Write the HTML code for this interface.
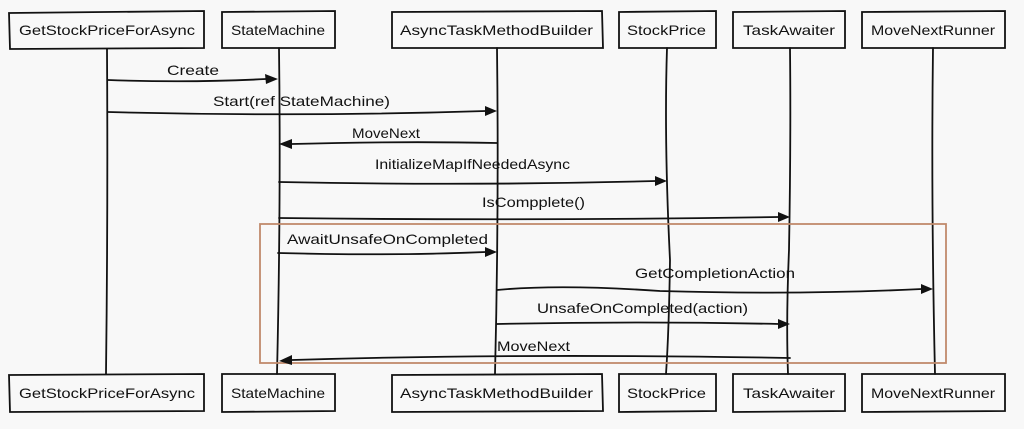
<!DOCTYPE html>
<html><head><meta charset="utf-8"><style>
html,body{margin:0;padding:0;background:#f8f8f8;}
svg{display:block;}
text{font-family:"Liberation Sans",sans-serif;font-size:14px;fill:#111;}
</style></head><body>
<svg width="1024" height="429" viewBox="0 0 1024 429" xmlns="http://www.w3.org/2000/svg">
<rect width="1024" height="429" fill="#f8f8f8"/>
<g fill="none" stroke="#111" stroke-width="1.8" stroke-linecap="round">
<!-- lifelines -->
<path d="M107 49 Q108 210 106 374"/>
<path d="M279 48 Q281 200 277 374"/>
<path d="M497 48 Q499 210 495 374"/>
<path d="M667 48 Q664 140 670 260 Q669 330 666 374"/>
<path d="M790 48 Q791 140 789 250 Q786 320 788 374"/>
<path d="M933 48 Q931 200 935 374"/>
<!-- top boxes -->
<path d="M9 13 L204 11 L204 48 L10 49 Z"/>
<path d="M222 12 L335 11 L335 48 L222 48 Z"/>
<path d="M392 12 L602 11 L603 48 L392 48 Z"/>
<path d="M619 12 L716 11 L716 48 L619 48 Z"/>
<path d="M733 12 L845 11 L845 48 L733 48 Z"/>
<path d="M862 12 L1005 11 L1005 48 L862 48 Z"/>
<!-- bottom boxes -->
<path d="M9 375 L204 374 L204 411 L10 412 Z"/>
<path d="M222 374 L335 374 L335 411 L222 412 Z"/>
<path d="M392 375 L602 374 L603 411 L392 412 Z"/>
<path d="M619 374 L716 374 L716 411 L619 412 Z"/>
<path d="M733 374 L845 374 L845 411 L733 412 Z"/>
<path d="M862 374 L1005 374 L1005 411 L862 412 Z"/>
<!-- messages -->
<path d="M108 80 Q190 83 266 79"/>
<path d="M108 112 Q300 117 486 111"/>
<path d="M497 143 Q400 141 292 144"/>
<path d="M279 182 Q470 186 656 181"/>
<path d="M279 218 Q530 221 779 217"/>
<path d="M278 253 Q390 256 486 252"/>
<path d="M497 290 Q560 284 660 291 Q800 295 922 289"/>
<path d="M497 324 Q640 321 779 324"/>
<path d="M790 358 Q520 353 292 360"/>
</g>
<!-- orange box -->
<rect x="260" y="224" width="686" height="139" fill="none" stroke="#c08a6c" stroke-width="1.8"/>
<!-- arrowheads -->
<g fill="#111">
<path d="M278 79 L265 74 L266 84 Z"/>
<path d="M497 111 L485 106 L485 116 Z"/>
<path d="M279 144 L292 139 L292 149 Z"/>
<path d="M667 181 L655 176 L655 186 Z"/>
<path d="M790 217 L778 212 L778 222 Z"/>
<path d="M497 252 L485 247 L485 257 Z"/>
<path d="M933 289 L921 284 L921 294 Z"/>
<path d="M790 324 L778 319 L778 329 Z"/>
<path d="M279 361 L292 355 L292 365 Z"/>
</g>
<!-- box labels -->
<g>
<text x="19" y="35" textLength="176" lengthAdjust="spacingAndGlyphs">GetStockPriceForAsync</text>
<text x="231" y="35" textLength="94" lengthAdjust="spacingAndGlyphs">StateMachine</text>
<text x="400" y="35" textLength="193" lengthAdjust="spacingAndGlyphs">AsyncTaskMethodBuilder</text>
<text x="627" y="35" textLength="79" lengthAdjust="spacingAndGlyphs">StockPrice</text>
<text x="743" y="35" textLength="92" lengthAdjust="spacingAndGlyphs">TaskAwaiter</text>
<text x="871" y="35" textLength="124" lengthAdjust="spacingAndGlyphs">MoveNextRunner</text>
<text x="19" y="398" textLength="176" lengthAdjust="spacingAndGlyphs">GetStockPriceForAsync</text>
<text x="231" y="398" textLength="94" lengthAdjust="spacingAndGlyphs">StateMachine</text>
<text x="400" y="398" textLength="193" lengthAdjust="spacingAndGlyphs">AsyncTaskMethodBuilder</text>
<text x="627" y="398" textLength="79" lengthAdjust="spacingAndGlyphs">StockPrice</text>
<text x="743" y="398" textLength="92" lengthAdjust="spacingAndGlyphs">TaskAwaiter</text>
<text x="871" y="398" textLength="124" lengthAdjust="spacingAndGlyphs">MoveNextRunner</text>
</g>
<!-- message labels -->
<g>
<text x="167" y="75" textLength="52" lengthAdjust="spacingAndGlyphs">Create</text>
<text x="213" y="106" textLength="177" lengthAdjust="spacingAndGlyphs">Start(ref StateMachine)</text>
<text x="352" y="138" textLength="68" lengthAdjust="spacingAndGlyphs">MoveNext</text>
<text x="375" y="169" textLength="195" lengthAdjust="spacingAndGlyphs">InitializeMapIfNeededAsync</text>
<text x="482" y="207" textLength="103" lengthAdjust="spacingAndGlyphs">IsCompplete()</text>
<text x="287" y="244" textLength="201" lengthAdjust="spacingAndGlyphs">AwaitUnsafeOnCompleted</text>
<text x="635" y="278" textLength="160" lengthAdjust="spacingAndGlyphs">GetCompletionAction</text>
<text x="537" y="313" textLength="211" lengthAdjust="spacingAndGlyphs">UnsafeOnCompleted(action)</text>
<text x="497" y="351" textLength="73" lengthAdjust="spacingAndGlyphs">MoveNext</text>
</g>
</svg>
</body></html>
